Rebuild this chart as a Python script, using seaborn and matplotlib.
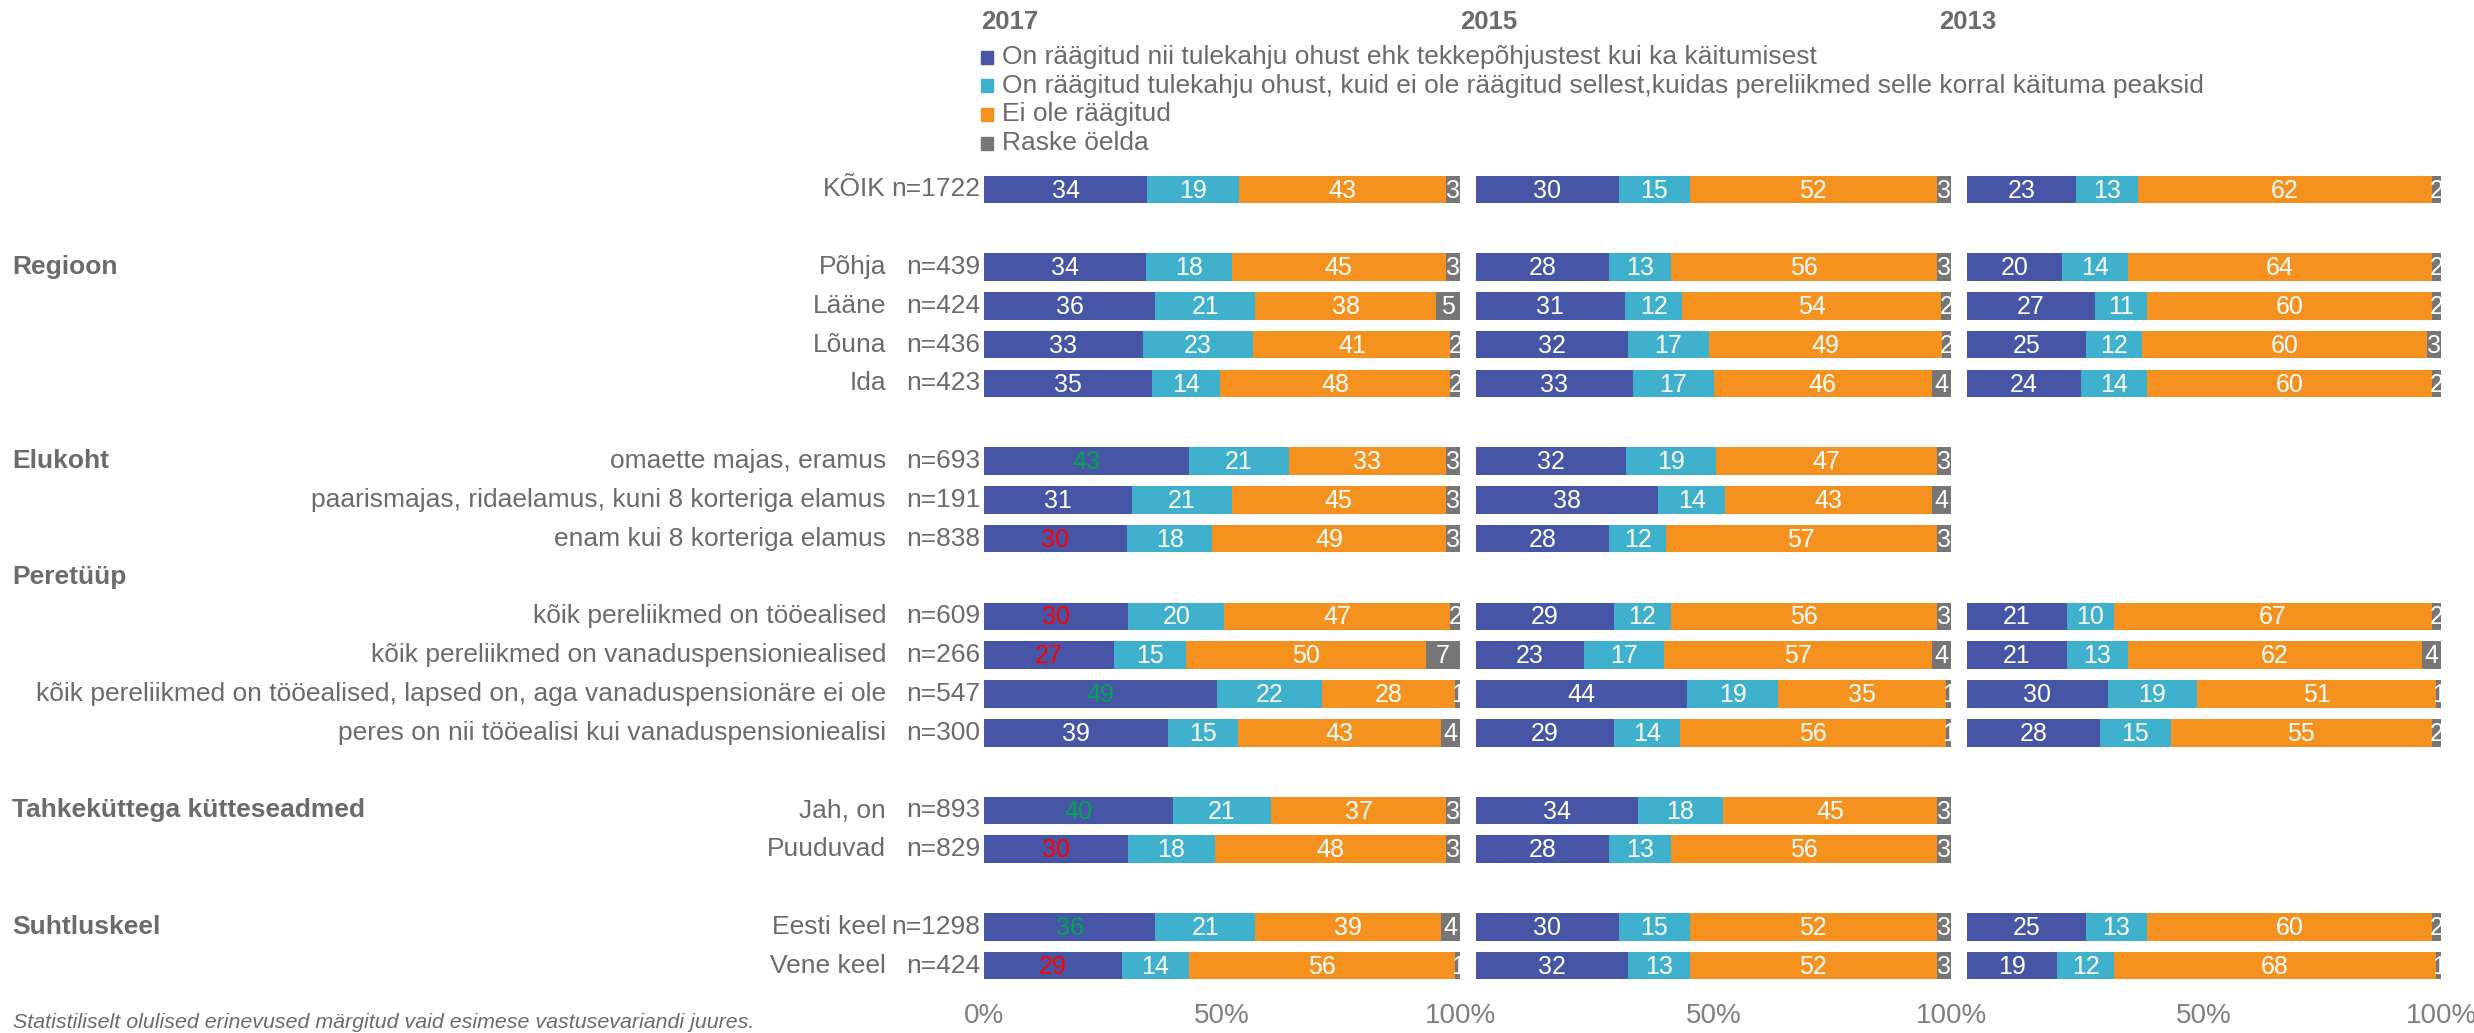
import numpy as np
import pandas as pd
import matplotlib
matplotlib.use("Agg")
import matplotlib.pyplot as plt
import seaborn as sns
from matplotlib.transforms import blended_transform_factory
from matplotlib.patches import Rectangle

# ---------------- data ----------------
categories = [
    "KÕIK", "Põhja", "Lääne", "Lõuna", "Ida",
    "omaette majas, eramus",
    "paarismajas, ridaelamus, kuni 8 korteriga elamus",
    "enam kui 8 korteriga elamus",
    "kõik pereliikmed on tööealised",
    "kõik pereliikmed on vanaduspensioniealised",
    "kõik pereliikmed on tööealised, lapsed on, aga vanaduspensionäre ei ole",
    "peres on nii tööealisi kui vanaduspensioniealisi",
    "Jah, on", "Puuduvad", "Eesti keel", "Vene keel",
]
n_sizes = [1722, 439, 424, 436, 423, 693, 191, 838, 609, 266, 547, 300, 893, 829, 1298, 424]

series_names = [
    "On räägitud nii tulekahju ohust ehk tekkepõhjustest kui ka käitumisest",
    "On räägitud tulekahju ohust, kuid ei ole räägitud sellest,kuidas pereliikmed selle korral käituma peaksid",
    "Ei ole räägitud",
    "Raske öelda",
]
years = ["2017", "2015", "2013"]

s1_2017 = [34, 34, 36, 33, 35, 43, 31, 30, 30, 27, 49, 39, 40, 30, 36, 29]
s2_2017 = [19, 18, 21, 23, 14, 21, 21, 18, 20, 15, 22, 15, 21, 18, 21, 14]
s3_2017 = [43, 45, 38, 41, 48, 33, 45, 49, 47, 50, 28, 43, 37, 48, 39, 56]
s4_2017 = [3, 3, 5, 2, 2, 3, 3, 3, 2, 7, 1, 4, 3, 3, 4, 1]
# significance marks for first answer in 2017: + higher (green), - lower (red)
sig_2017 = ["", "", "", "", "", "+", "", "-", "-", "-", "+", "", "+", "-", "+", "-"]

s1_2015 = [30, 28, 31, 32, 33, 32, 38, 28, 29, 23, 44, 29, 34, 28, 30, 32]
s2_2015 = [15, 13, 12, 17, 17, 19, 14, 12, 12, 17, 19, 14, 18, 13, 15, 13]
s3_2015 = [52, 56, 54, 49, 46, 47, 43, 57, 56, 57, 35, 56, 45, 56, 52, 52]
s4_2015 = [3, 3, 2, 2, 4, 3, 4, 3, 3, 4, 1, 1, 3, 3, 3, 3]

s1_2013 = [23, 20, 27, 25, 24, None, None, None, 21, 21, 30, 28, None, None, 25, 19]
s2_2013 = [13, 14, 11, 12, 14, None, None, None, 10, 13, 19, 15, None, None, 13, 12]
s3_2013 = [62, 64, 60, 60, 60, None, None, None, 67, 62, 51, 55, None, None, 60, 68]
s4_2013 = [2, 2, 2, 3, 2, None, None, None, 2, 4, 1, 2, None, None, 2, 1]

year_series = {
    "2017": [s1_2017, s2_2017, s3_2017, s4_2017],
    "2015": [s1_2015, s2_2015, s3_2015, s4_2015],
    "2013": [s1_2013, s2_2013, s3_2013, s4_2013],
}
tick_labels_first = ["0%", "50%", "100%"]
tick_labels_other = ["", "50%", "100%"]

# ---------------- layout (row slots, blanks included) ----------------
slots = ["KÕIK", None, "Põhja", "Lääne", "Lõuna", "Ida", None,
         categories[5], categories[6], categories[7], None,
         categories[8], categories[9], categories[10], categories[11], None,
         "Jah, on", "Puuduvad", None, "Eesti keel", "Vene keel"]
order = [s if s is not None else f"_blank{i}" for i, s in enumerate(slots)]
section_headers = [("Regioon", 2), ("Elukoht", 7), ("Peretüüp", 10),
                   ("Tahkeküttega kütteseadmed", 16), ("Suhtluskeel", 19)]

colors = ["#4755A6", "#40B1CD", "#F5911F", "#767676"]
sig_colors = {"": "white", "+": "#00A550", "-": "#FF0000"}
txt_col = "#6b6b6b"

records = []
for yr in years:
    ser = year_series[yr]
    for i, cat in enumerate(categories):
        vals = [ser[k][i] for k in range(4)]
        if vals[0] is None:
            continue
        tot = float(sum(vals))
        cum = 0.0
        for k, v in enumerate(vals):
            records.append(dict(year=yr, group=cat, series=k, val=v,
                                start=cum / tot * 100, end=(cum + v) / tot * 100))
            cum += v
df = pd.DataFrame(records)

# ---------------- figure ----------------
W, H = 2474, 1033
sns.set_theme(style="white")
plt.rcParams["font.family"] = ["Liberation Sans", "DejaVu Sans"]
fig = plt.figure(figsize=(W / 100, H / 100), dpi=100)

top_px, bot_px = 170, 985
panel_x = [(984, 1460), (1476, 1951), (1967, 2441)]
axes = []
for (x0, x1) in panel_x:
    ax = fig.add_axes([x0 / W, 1 - bot_px / H, (x1 - x0) / W, (bot_px - top_px) / H])
    axes.append(ax)

for j, (ax, yr) in enumerate(zip(axes, years)):
    sub_y = df[df["year"] == yr]
    for k in reversed(range(4)):
        sub = sub_y[sub_y["series"] == k]
        sns.barplot(data=sub, x="end", y="group", order=order, orient="h",
                    color=colors[k], saturation=1, width=0.71, errorbar=None,
                    linewidth=0, ax=ax)
    for rec in sub_y.to_dict("records"):
        row = order.index(rec["group"])
        c = "white"
        if yr == "2017" and rec["series"] == 0:
            c = sig_colors[sig_2017[categories.index(rec["group"])]]
        ax.text((rec["start"] + rec["end"]) / 2, row + 0.03, str(int(rec["val"])),
                ha="center", va="center", color=c, fontsize=18, clip_on=True)
    ax.set_xlim(0, 100)
    ax.set_ylim(len(order) - 0.5, -0.5)
    ax.set_xticks([0, 50, 100])
    ax.set_xticklabels(tick_labels_first if j == 0 else tick_labels_other)
    ax.tick_params(axis="x", length=0, pad=13, labelsize=20, labelcolor="#7f7f7f")
    ax.set_yticks([])
    ax.set_xlabel("")
    ax.set_ylabel("")
    for sp in ax.spines.values():
        sp.set_visible(False)
    ax.grid(False)

# left labels
ax1 = axes[0]
trans = blended_transform_factory(fig.transFigure, ax1.transData)
for cat, n in zip(categories, n_sizes):
    row = order.index(cat)
    ax1.text(886 / W, row, cat, ha="right", va="center", transform=trans,
             fontsize=19, color=txt_col, clip_on=False)
    ax1.text(980 / W, row, f"n={n}", ha="right", va="center", transform=trans,
             fontsize=19, color=txt_col, clip_on=False)
for name, row in section_headers:
    ax1.text(12 / W, row, name, ha="left", va="center", transform=trans,
             fontsize=19, fontweight="bold", color=txt_col, clip_on=False)

# year headers
for yr, xp in zip(years, [981, 1460, 1939]):
    fig.text(xp / W, 1 - 22 / H, yr, ha="left", va="center", fontsize=18.5,
             fontweight="bold", color=txt_col)

# legend
for i, (name, col) in enumerate(zip(series_names, colors)):
    yc = 57 + i * 28.7
    fig.add_artist(Rectangle((981 / W, 1 - (yc + 6.5) / H), 12 / W, 13 / H,
                             color=col, transform=fig.transFigure))
    fig.text(1002 / W, 1 - yc / H, name, ha="left", va="center",
             fontsize=19, color=txt_col)

# footnote
fig.text(13 / W, 1 - 1023 / H,
         "Statistiliselt olulised erinevused märgitud vaid esimese vastusevariandi juures.",
         ha="left", va="center", fontsize=15.4, style="italic", color=txt_col)

fig.savefig("out.png", dpi=100)
